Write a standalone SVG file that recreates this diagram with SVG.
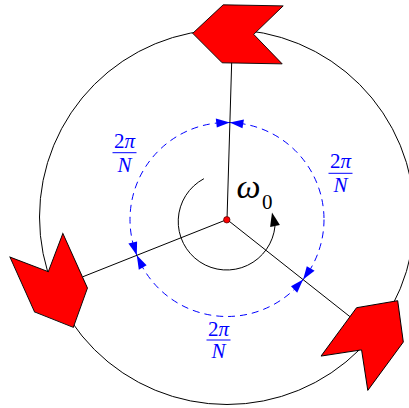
<svg xmlns="http://www.w3.org/2000/svg" xmlns:xlink="http://www.w3.org/1999/xlink" width="409" height="408" viewBox="0 0 409 408">
<style>
.ln{fill:none;stroke:#000;stroke-width:1}
.dash{fill:none;stroke:#0000ff;stroke-width:1;stroke-dasharray:7 5}
.bh{fill:#0000ff;stroke:none}
.arr{fill:#ff0000;stroke:#000;stroke-width:0.9;stroke-linejoin:miter}
.frac{font-family:"Liberation Serif","DejaVu Serif",serif;font-size:21px;fill:#0000ff;text-anchor:middle}
.bar{stroke:#0000ff;stroke-width:1}
.om{font-family:"Liberation Serif","DejaVu Serif",serif;fill:#000}
</style>
<defs>
<polygon id="chev" points="0,0 30,-29 90,-29 61,0 90,29 30,29"/>
</defs>
<rect width="409" height="408" fill="#fff"/>
<g id="connectors">
<circle class="ln" cx="227" cy="217" r="187.5"/>
<circle class="dash" cx="227" cy="219.5" r="97"/>
<g id="dim-marks">
<polygon class="bh" points="229.8,122.5 215.8,118.6 216.8,127.6"/>
<polygon class="bh" points="229.8,122.5 243.95,119.4 242.45,128.3"/>
<polygon class="bh" points="136.8,255.3 128.4,243.5 137.1,241.4"/>
<polygon class="bh" points="136.8,255.3 138.8,269.7 146.6,265.2"/>
<polygon class="bh" points="303.1,279.6 297.2,292.8 291.0,286.3"/>
<polygon class="bh" points="303.1,279.6 314.6,270.8 306.8,266.2"/>
</g>
<line class="ln" x1="227" y1="219.5" x2="231.7" y2="62"/>
<line class="ln" x1="227" y1="219.5" x2="83" y2="276.7"/>
<line class="ln" x1="227" y1="219.5" x2="350" y2="316.7"/>
<path class="ln" d="M203.9,178.7 A48.5,48.5 0 1 0 275,226"/>
<polygon fill="#000" points="272,212.5 279.9,224.9 270.1,227.1"/>
</g>
<g id="arrow-top"><use xlink:href="#chev" href="#chev" class="arr" transform="translate(192.7,33.3) rotate(1)"/></g>
<g id="arrow-left"><use xlink:href="#chev" href="#chev" class="arr" transform="translate(73.3,327.3) rotate(-114.2)"/></g>
<g id="arrow-br"><use xlink:href="#chev" href="#chev" class="arr" transform="translate(397.7,300.7) rotate(126.3)"/></g>
<g id="center"><circle cx="226.8" cy="219.8" r="3.2" fill="#ff0000" stroke="#400" stroke-width="0.7"/></g>
<g id="label-omega">
<text class="om" x="236.5" y="198.3" font-size="34" font-style="italic">ω</text>
<text class="om" x="262" y="209" font-size="21">0</text>
</g>
<g id="label-left">
<text class="frac" x="124.5" y="148.3">2<tspan font-style="italic">π</tspan></text>
<line class="bar" x1="112.5" y1="152.7" x2="136.5" y2="152.7"/>
<text class="frac" x="124.5" y="171.7" font-style="italic">N</text>
</g>
<g id="label-right">
<text class="frac" x="340.5" y="168.3">2<tspan font-style="italic">π</tspan></text>
<line class="bar" x1="328.5" y1="173.3" x2="352.5" y2="173.3"/>
<text class="frac" x="340.5" y="192.3" font-style="italic">N</text>
</g>
<g id="label-bottom">
<text class="frac" x="218.5" y="335.5">2<tspan font-style="italic">π</tspan></text>
<line class="bar" x1="206.5" y1="340" x2="230.5" y2="340"/>
<text class="frac" x="218.5" y="358.4" font-style="italic">N</text>
</g>
</svg>
